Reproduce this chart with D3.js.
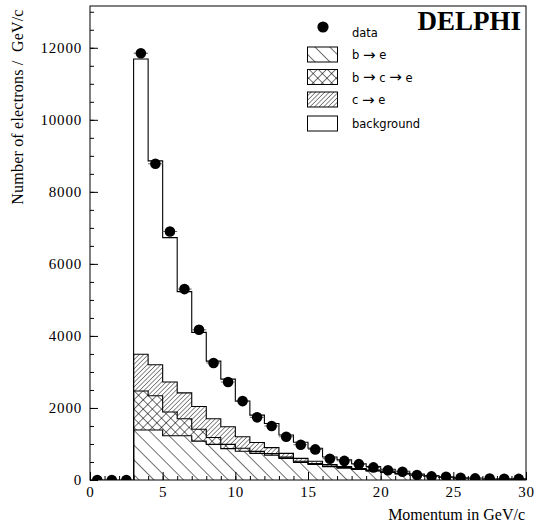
<!DOCTYPE html>
<html>
<head>
<meta charset="utf-8">
<script src="https://cdn.jsdelivr.net/npm/d3@7"></script>
<style>
html,body{margin:0;padding:0;background:#fff;}
svg{display:block;}
</style>
</head>
<body>
<div id="chart"></div>
<script>
// ---------- data ----------
const binLow = [3,4,5,6,7,8,9,10,11,12,13,14,15,16,17,18,19,20,21,22,23,24,25,26,27,28,29];
const bToE   = [1390,1390,1230,1230,1080,990,870,800,740,690,600,490,430,370,330,290,250,210,170,130,100,80,55,40,33,28,24];
const bToCToE= [1080,950,660,470,330,190,120,80,55,45,35,30,25,20,15,12,10,8,6,5,4,3,2,2,1,1,1];
const cToE   = [1020,860,830,720,630,520,490,320,245,165,105,80,65,40,25,18,15,12,10,8,6,5,3,3,2,2,2];
const backgr = [8200,5660,4010,2810,2060,1600,1320,990,760,670,510,450,360,210,190,130,100,70,55,20,10,8,5,3,3,3,3];

const dataX = [0.5,1.5,2.5,3.5,4.5,5.5,6.5,7.5,8.5,9.5,10.5,11.5,12.5,13.5,14.5,15.5,16.5,17.5,18.5,19.5,20.5,21.5,22.5,23.5,24.5,25.5,26.5,27.5,28.5,29.5];
const dataY = [0,0,0,11850,8780,6900,5300,4170,3250,2720,2190,1740,1500,1200,980,850,590,530,440,350,270,230,140,100,90,60,45,40,35,30];

const xTicks = [0,5,10,15,20,25,30];
const yTicks = [0,2000,4000,6000,8000,10000,12000];
const legendLabels = ["data","b \u2192 e","b \u2192 c \u2192 e","c \u2192 e","background"];

// ---------- layout ----------
const W = 538, H = 527;
const L = 90, R = 526, T = 6, B = 480;
const x = d3.scaleLinear().domain([0,30]).range([L,R]);
const y = d3.scaleLinear().domain([0,13160]).range([B,T]);

const svg = d3.select("#chart").append("svg").attr("width",W).attr("height",H);
const defs = svg.append("defs");
defs.append("clipPath").attr("id","plotclip").append("rect")
  .attr("x",L).attr("y",T).attr("width",R-L).attr("height",B-T);

function hatch(id, s, angles, sw){
  angles.forEach((a,i)=>{
    const p = defs.append("pattern").attr("id",id+i).attr("patternUnits","userSpaceOnUse")
      .attr("width",s).attr("height",s).attr("patternTransform",`rotate(${a})`);
    p.append("line").attr("x1",0).attr("y1",-1).attr("x2",0).attr("y2",s+1)
      .attr("stroke","#000").attr("stroke-width",sw);
  });
}
hatch("pBE", 10.5, [-45], 1.1);
hatch("pBCE", 6.5, [45,-45], 1.1);
hatch("pCE", 3.2, [45], 0.9);

// stack
const rows = binLow.map((b,i)=>({b, be:bToE[i], bce:bToCToE[i], ce:cToE[i], bg:backgr[i]}));
const stack = d3.stack().keys(["be","bce","ce","bg"])(rows);

const plot = svg.append("g").attr("clip-path","url(#plotclip)");

function bandPath(layer){
  let top = "", bot = [];
  layer.forEach((d,i)=>{
    const x0 = x(d.data.b), x1 = x(d.data.b+1);
    top += (i===0?"M":"L")+x0+","+y(d[1])+"L"+x1+","+y(d[1]);
    bot.unshift("L"+x1+","+y(d[0])+"L"+x0+","+y(d[0]));
  });
  return top + bot.join("") + "Z";
}
function topLine(layer){
  let p = "";
  layer.forEach((d,i)=>{
    const x0 = x(d.data.b), x1 = x(d.data.b+1);
    if(i===0) p += "M"+x0+","+y(0);
    p += "L"+x0+","+y(d[1])+"L"+x1+","+y(d[1]);
  });
  const last = layer[layer.length-1];
  p += "L"+x(last.data.b+1)+","+y(0);
  return p;
}

const fills = [["pBE",1],["pBCE",2],["pCE",1],[null,0]];
stack.forEach((layer,k)=>{
  const d = bandPath(layer);
  plot.append("path").attr("d",d).attr("fill","#fff");
  const [id,n] = fills[k];
  for(let i=0;i<n;i++) plot.append("path").attr("d",d).attr("fill",`url(#${id}${i})`);
});
stack.forEach((layer)=>{
  plot.append("path").attr("d",topLine(layer)).attr("fill","none")
    .attr("stroke","#000").attr("stroke-width",1.1);
});

// data points
const pts = plot.append("g");
dataX.forEach((xv,i)=>{
  pts.append("line").attr("x1",x(xv-0.5)).attr("x2",x(xv+0.5))
    .attr("y1",y(dataY[i])).attr("y2",y(dataY[i])).attr("stroke","#666").attr("stroke-width",1);
});
pts.selectAll("circle").data(dataX).enter().append("circle")
  .attr("cx",d=>x(d)).attr("cy",(d,i)=>y(dataY[i])).attr("r",5.3).attr("fill","#000");

// frame
svg.append("rect").attr("x",L).attr("y",T).attr("width",R-L).attr("height",B-T)
  .attr("fill","none").attr("stroke","#000").attr("stroke-width",1);

// axes
const yMinor = d3.range(0,13001,500);
const xMinor = d3.range(0,31,1);
const gy = svg.append("g").attr("transform",`translate(${L},0)`);
gy.call(d3.axisLeft(y).tickValues(yMinor).tickSize(-4).tickFormat(""));
gy.select(".domain").remove();
const gy2 = svg.append("g").attr("transform",`translate(${L},0)`);
gy2.call(d3.axisLeft(y).tickValues(yTicks).tickSize(-8).tickPadding(8).tickFormat(d3.format("d")));
gy2.select(".domain").remove();

const gx = svg.append("g").attr("transform",`translate(0,${B})`);
gx.call(d3.axisBottom(x).tickValues(xMinor).tickSize(-4).tickFormat(""));
gx.select(".domain").remove();
const gx2 = svg.append("g").attr("transform",`translate(0,${B})`);
gx2.call(d3.axisBottom(x).tickValues(xTicks).tickSize(-8).tickPadding(4).tickFormat(d3.format("d")));
gx2.select(".domain").remove();

svg.selectAll(".tick line").attr("stroke","#000");
svg.selectAll(".tick text").attr("font-family","'Liberation Serif', serif").attr("font-size",15)
  .attr("fill","#000").attr("letter-spacing",0.8);
gx2.selectAll(".tick text").attr("dy","0.71em").attr("y",6);

// titles
svg.append("text").attr("x",525).attr("y",520).attr("text-anchor","end")
  .attr("font-family","'Liberation Serif', serif").attr("font-size",16).text("Momentum in GeV/c");
svg.append("text").attr("transform","translate(23,107) rotate(-90)").attr("text-anchor","middle")
  .attr("font-family","'Liberation Serif', serif").attr("font-size",16).attr("letter-spacing",0.2)
  .text("Number of electrons /\u00A0 GeV/c");

// DELPHI
svg.append("text").attr("x",521).attr("y",30).attr("text-anchor","end")
  .attr("font-family","'Liberation Serif', serif").attr("font-weight","bold").attr("font-size",27).text("DELPHI");

// legend
const lg = svg.append("g").attr("font-family","'DejaVu Sans', sans-serif").attr("font-size",11.5);
const lx = 307.5, tx = 352;
lg.append("circle").attr("cx",323).attr("cy",27).attr("r",5.6).attr("fill","#000");
lg.append("text").attr("x",tx).attr("y",37).text(legendLabels[0]);
const boxes = [["pBE",1],["pBCE",2],["pCE",1],[null,0]];
const boxY = [47,69.5,92,116];
const NB = "\u00A0";
function legendText(sel, label){
  const parts = label.split(" \u2192 ");
  parts.forEach((p,i)=>{
    if(i>0){
      sel.append("tspan").attr("font-size",15).attr("dy",0.5).text("\u2192");
      sel.append("tspan").attr("dy",-0.5).text(NB+p+(i<parts.length-1?NB:""));
    } else sel.append("tspan").text(p+NB);
  });
}
boxes.forEach(([id,n],i)=>{
  const by = boxY[i];
  lg.append("rect").attr("x",lx).attr("y",by).attr("width",30).attr("height",15).attr("fill","#fff");
  for(let j=0;j<n;j++) lg.append("rect").attr("x",lx).attr("y",by).attr("width",30).attr("height",15).attr("fill",`url(#${id}${j})`);
  lg.append("rect").attr("x",lx).attr("y",by).attr("width",30).attr("height",15).attr("fill","none").attr("stroke","#000").attr("stroke-width",1);
  const t = lg.append("text").attr("x",tx).attr("y",by+12);
  legendText(t, legendLabels[i+1]);
});
</script>
</body>
</html>
